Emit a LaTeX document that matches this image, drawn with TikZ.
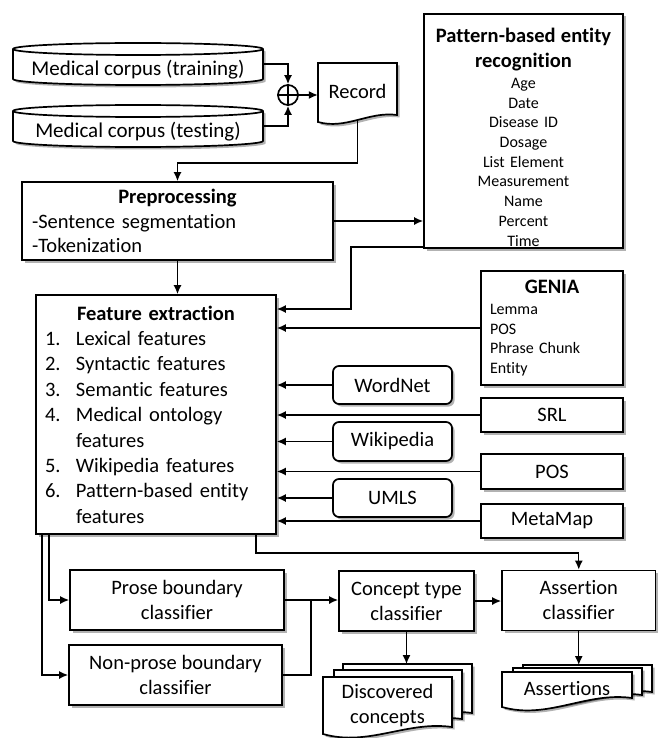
\documentclass[tikz,border=0pt]{standalone}
\usepackage{fontspec}
\setmainfont{Carlito}[Ligatures=NoCommon]
\usetikzlibrary{arrows.meta,shadows,calc}
\newcommand\fsmain{\fontsize{20.5}{25}\selectfont}
\newcommand\fsfeat{\fontsize{20.5}{25.4}\selectfont}
\newcommand\fssmall{\fontsize{16}{19.7}\selectfont}
\newcommand\numlbl[1]{\makebox[31pt][l]{#1}}
\tikzset{
  shapeline/.style={draw=black, line width=1.7pt},
  shade/.style={drop shadow={shadow xshift=2.5pt, shadow yshift=-2.5pt, fill=black, opacity=0.3}},
  box/.style={shapeline, fill=white, shade, rectangle, inner sep=0pt, align=center, font=\fsmain},
  rbox/.style={box, rounded corners=6pt},
  txt/.style={inner sep=0pt, align=center, font=\fsmain},
  conn/.style={line width=1.4pt},
  arr/.style={conn, -{Latex[length=9pt,width=8pt]}},
}
\newcommand\drum[4]{%
  \pgfmathsetmacro\drx{(#3-#1)/2}%
  \draw[shapeline, fill=white, shade] (#1,#2+6) -- (#1,#4-6)
     arc[start angle=180, end angle=0, x radius=\drx, y radius=6] -- (#3,#2+6)
     arc[start angle=0, end angle=-180, x radius=\drx, y radius=6] -- cycle;
  \draw[shapeline] (#1,#2+6) arc[start angle=180, end angle=0, x radius=\drx, y radius=6];}
\newcommand\docsheet[5]{%
  \pgfmathsetmacro\dw{#3-#1}%
  \pgfmathsetmacro\cax{#3-0.35*\dw}\pgfmathsetmacro\cay{#4-0.05*\dw}%
  \pgfmathsetmacro\cbx{#1+0.35*\dw}\pgfmathsetmacro\cby{#5+0.1*\dw}%
  \draw[shapeline, fill=white, shade] (#1,#2) -- (#3,#2) -- (#3,#4)
     .. controls (\cax,\cay) and (\cbx,\cby) .. (#1,#5) -- cycle;}
\begin{document}
\begin{tikzpicture}[x=1pt,y=-1pt]
\fill[white] (0,0) rectangle (657,738);
\useasboundingbox (0,0) rectangle (657,738);

% corpora
\drum{13}{43}{263}{85}
\drum{13}{105}{263}{147}
\node[txt, font=\fontsize{21}{25}\selectfont, minimum width=250pt, minimum height=42pt] (train) at (138,64)
  {\raisebox{-6pt}[\height][\depth]{Medical corpus (training)}};
\node[txt, font=\fontsize{21}{25}\selectfont, minimum width=250pt, minimum height=42pt] (test) at (138,126)
  {\raisebox{-6pt}[\height][\depth]{Medical corpus (testing)}};

% oplus
\node[shapeline, fill=white, circle, minimum size=20pt, inner sep=0pt] (op) at (288,95) {};
\draw[shapeline, line width=1.3pt] (op.north) -- (op.south) (op.west) -- (op.east);

% record
\docsheet{318}{63}{397}{115}{122}
\node[txt, minimum width=79pt, minimum height=57pt] (rec) at (357.5,91.5) {Record};

% pattern-based
\node[box, minimum width=199pt, minimum height=234pt] (pat) at (523.5,131) {};
\node[txt, text width=195pt, font=\fssmall] (pattxt) at (523.5,137)
  {{\fsmain\bfseries Pattern-based entity\\recognition\par}\vspace{1.5pt}Age\\Date\\Disease ID\\Dosage\\List Element\\Measurement\\Name\\Percent\\Time};

% preprocessing
\node[box, minimum width=311pt, minimum height=78pt, text width=291pt, inner xsep=10pt, align=left,
  font=\fontsize{20.5}{24.5}\selectfont] (pre) at (177.5,221)
  {{\bfseries\centering Preprocessing\par}-Sentence segmentation\\-Tokenization};

% feature extraction
\node[box, minimum width=240pt, minimum height=239pt, text width=222pt, inner xsep=9pt, align=left,
  font=\fsfeat] (fe) at (156,414.5)
  {{\bfseries\centering Feature extraction\par}%
   \numlbl{1.}Lexical features\\
   \numlbl{2.}Syntactic features\\
   \numlbl{3.}Semantic features\\
   \numlbl{4.}Medical ontology\\
   \hspace*{31pt}features\\
   \numlbl{5.}Wikipedia features\\
   \numlbl{6.}Pattern-based entity\\
   \hspace*{31pt}features};

% resources
\node[box, minimum width=142pt, minimum height=114pt, text width=124pt, inner xsep=9pt, align=left,
  font=\fssmall] (genia) at (552,328)
  {{\fsmain\bfseries\centering GENIA\par}\vspace{1.5pt}Lemma\\POS\\Phrase Chunk\\Entity};
\node[rbox, minimum width=119pt, minimum height=38pt] (wn) at (392.5,385) {WordNet};
\node[box, minimum width=142pt, minimum height=34pt] (srl) at (552,415) {SRL};
\node[rbox, minimum width=119pt, minimum height=39pt] (wiki) at (392.5,441.5) {Wikipedia};
\node[box, minimum width=142pt, minimum height=35pt] (pos) at (552,471.5) {POS};
\node[rbox, minimum width=119pt, minimum height=38pt] (umls) at (392.5,498) {UMLS};
\node[box, minimum width=142pt, minimum height=34pt] (mm) at (552,521) {MetaMap};

% classifiers
\node[box, minimum width=214pt, minimum height=60pt] (prose) at (177,600) {Prose boundary\\classifier};
\node[box, minimum width=213pt, minimum height=60pt] (np) at (175.5,675) {Non-prose boundary\\classifier};
\node[box, minimum width=135pt, minimum height=60pt] (ct) at (406.5,601) {Concept type\\classifier};
\node[box, minimum width=153.5pt, minimum height=60pt] (asr) at (578.75,600.5) {Assertion\\classifier};

% output documents
\coordinate (discb) at (343,664);
\coordinate (asrb) at (523,665);
\docsheet{343}{664}{472}{713}{721}
\docsheet{334}{670}{462}{719}{727}
\docsheet{323}{677}{452}{727}{734}
\node[txt, minimum width=129pt, minimum height=56pt] (disc) at (387.5,706) {Discovered\\concepts};
\docsheet{523}{665}{652}{692}{700}
\docsheet{513}{668}{642}{695}{703}
\docsheet{502}{672}{632}{698}{707}
\node[txt, minimum width=130pt, minimum height=26pt] (asrs) at (567,689) {Assertions};

% connectors
\draw[arr] (train.east) -| (op.north);
\draw[arr] (test.east) -| (op.south);
\draw[arr] (op.east) -- (op.east -| rec.west);
\draw[arr] (rec.south) -- ++(0,43) -| (pre.north);
\draw[arr] (pre.east) -- (pre.east -| pat.west);
\draw[arr] (pre.south) -- (pre.south |- fe.north);
\coordinate (pfa) at (351,247);
\coordinate (pfb) at (351,309);
\draw[arr] (pfa -| pat.west) -- (pfa) -- (pfb) -- (pfb -| fe.east);
\draw[arr] (genia.west) -- (genia.west -| fe.east);
\draw[arr] (wn.west) -- (wn.west -| fe.east);
\draw[arr] (srl.west) -- (srl.west -| fe.east);
\draw[arr] (wiki.west) -- (wiki.west -| fe.east);
\draw[arr] (pos.west) -- (pos.west -| fe.east);
\draw[arr] (umls.west) -- (umls.west -| fe.east);
\draw[arr] (mm.west) -- (mm.west -| fe.east);
\draw[arr] ([xshift=14pt]fe.south west) |- (prose.west);
\draw[arr] ([xshift=7pt]fe.south west) |- (np.west);
\draw[arr] ([xshift=-21pt]fe.south east) -- ++(0,18) -| (asr.north);
\coordinate (j) at (311,600);
\draw[arr] (prose.east) -- (prose.east -| ct.west);
\draw[conn] (np.east) -| (j);
\draw[arr] (ct.east) -- (ct.east -| asr.west);
\draw[arr] (ct.south) -- (ct.south |- discb);
\draw[arr] (asr.south) -- (asr.south |- asrb);
\end{tikzpicture}
\end{document}
